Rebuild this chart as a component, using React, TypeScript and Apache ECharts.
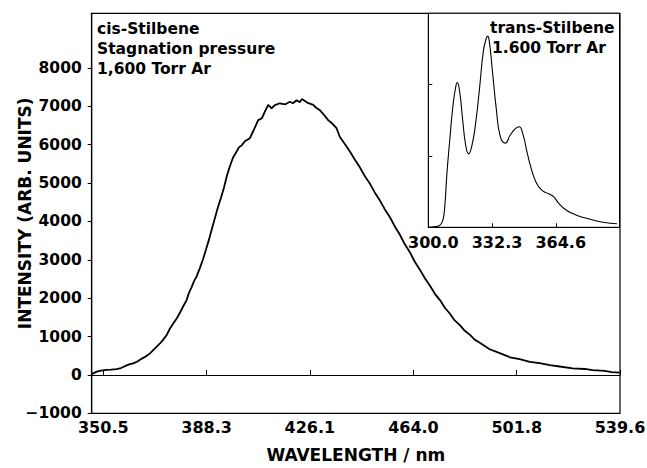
import React, { useEffect, useRef } from "react";
import * as echarts from "echarts";

// Main spectrum (cis-Stilbene): wavelength (nm) and intensity (arb. units)
const mainWavelength = [
  346.26, 348.1, 349.66, 351.74, 353.32, 355.4, 356.97, 359.06, 360.26, 361.47,
  362.83, 363.92, 365.75, 367.58, 369.41, 371.24, 372.45, 373.69, 374.9, 376.1,
  377.35, 378.55, 379.76, 381.0, 381.85, 382.83, 383.67, 384.66, 385.87, 386.97,
  388.06, 389.16, 390.26, 391.36, 392.45, 393.55, 394.65, 395.74, 396.84, 397.94,
  399.04, 400.13, 401.23, 402.33, 404.16, 405.62, 407.19, 408.55, 409.64, 410.85,
  412.09, 413.3, 415.13, 416.96, 418.79, 419.89, 421.24, 422.45, 423.18, 424.28,
  425.38, 427.31, 428.3, 429.76, 431.23, 432.8, 434.15, 435.87, 437.08, 438.9,
  440.7, 442.6, 444.4, 446.3, 448.1, 449.9, 451.7, 453.5, 455.4, 457.2,
  459.0, 460.8, 462.7, 464.5, 466.3, 468.2, 470.0, 471.8, 473.7, 475.5,
  477.3, 479.1, 481.0, 482.8, 484.6, 486.4, 488.3, 491.9, 495.6, 499.3,
  502.9, 506.6, 510.2, 513.9, 517.5, 522.3, 526.7, 529.6, 534.0, 536.6, 539.5,
];
const mainIntensity = [
  20, 86, 110, 130, 138, 150, 180, 250, 280, 300,
  345, 395, 470, 560, 690, 820, 920, 1040, 1210, 1340,
  1470, 1620, 1790, 1950, 2140, 2290, 2440, 2570, 2790, 3010,
  3260, 3520, 3810, 4090, 4370, 4610, 4880, 5190, 5440, 5660,
  5790, 5930, 5990, 6090, 6170, 6390, 6640, 6690, 6860, 7040,
  6950, 7030, 7080, 7050, 7120, 7080, 7160, 7110, 7190, 7140,
  7090, 7040, 6970, 6900, 6780, 6640, 6560, 6430, 6200, 6020,
  5830, 5610, 5410, 5170, 4980, 4750, 4550, 4320, 4110, 3870,
  3660, 3410, 3200, 2950, 2750, 2520, 2330, 2120, 1950, 1750,
  1600, 1420, 1300, 1150, 1050, 920, 840, 670, 570, 460,
  410, 340, 305, 255, 220, 170, 155, 125, 105, 75, 60,
];

// Inset spectrum (trans-Stilbene)
const insetWavelength = [
  300.35, 303.9, 305.9, 307.4, 308.4, 309.4, 310.9, 312.4, 313.9, 314.7,
  315.9, 317.4, 318.9, 320.4, 321.9, 323.9, 325.9, 327.9, 329.4, 330.1,
  330.9, 332.4, 334.5, 336.5, 339.0, 341.5, 344.0, 346.0, 348.0, 350.0,
  352.0, 354.5, 357.5, 361.0, 363.5, 366.0, 370.0, 375.1, 381.1, 388.6, 395.6,
];
const insetIntensity = [
  0.0, 0.01, 0.03, 0.1, 0.31, 0.74, 1.23, 1.68, 1.97, 2.03,
  1.9, 1.51, 1.16, 1.03, 1.12, 1.44, 1.93, 2.47, 2.65, 2.68,
  2.61, 2.22, 1.65, 1.27, 1.18, 1.29, 1.38, 1.41, 1.3, 1.06,
  0.84, 0.64, 0.52, 0.47, 0.43, 0.34, 0.24, 0.17, 0.12, 0.07, 0.05,
];

const mainXTicks = [350.5, 388.3, 426.1, 464.0, 501.8, 539.6];
const mainYTicks = [-1000, 0, 1000, 2000, 3000, 4000, 5000, 6000, 7000, 8000];
const insetXTicks = [300.0, 332.3, 364.6];
const insetYTicks = [1, 2];

const FONT = "DejaVu Sans";

export default function App() {
  const ref = useRef<HTMLDivElement>(null);
  useEffect(() => {
    if (!ref.current) return;
    const chart = echarts.init(ref.current, undefined, { renderer: "svg" });
    const mainData = mainWavelength.map((x, i) => [x, mainIntensity[i]]);
    const insetData = insetWavelength.map((x, i) => [x, insetIntensity[i]]);
    const textStyle = { fontFamily: FONT, fontWeight: "bold", fontSize: 15.5, fill: "#000" };
    chart.setOption({
      animation: false,
      backgroundColor: "#fff",
      grid: [
        {
          left: 91.7, top: 13.3, right: 27, bottom: 54.7, show: true, borderColor: "#000", borderWidth: 1.2,
          containLabel: false, outerBoundsMode: "none",
        },
        {
          left: 428.3, top: 13.3, right: 27.5, bottom: 240.7, show: true, borderColor: "#000", borderWidth: 1,
          backgroundColor: "#fff", containLabel: false, outerBoundsMode: "none",
        },
      ],
      xAxis: [
        {
          type: "value", gridIndex: 0, min: 346.26, max: 539.6,
          name: "WAVELENGTH / nm", nameLocation: "middle", nameGap: 33, nameMoveOverlap: false,
          nameTextStyle: { fontFamily: FONT, fontWeight: "bold", fontSize: 17, color: "#000" },
          axisLine: { show: true, lineStyle: { color: "#000", width: 1.2 } },
          axisTick: { show: true, inside: true, length: 5, customValues: mainXTicks, lineStyle: { color: "#000" } },
          axisLabel: {
            customValues: mainXTicks, margin: 6, color: "#000", fontFamily: FONT, fontWeight: "bold", fontSize: 16,
            formatter: (v: number) => v.toFixed(1),
          },
          splitLine: { show: false },
        },
        {
          type: "value", gridIndex: 1, min: 300, max: 396.9,
          axisLine: { show: true, lineStyle: { color: "#000", width: 1.2 } },
          axisTick: { show: true, inside: true, length: 4, customValues: insetXTicks, lineStyle: { color: "#000" } },
          axisLabel: {
            customValues: insetXTicks, margin: 7, color: "#000", fontFamily: FONT, fontWeight: "bold", fontSize: 16,
            formatter: (v: number) => v.toFixed(1), padding: [0, 0, 0, 10],
          },
          splitLine: { show: false },
        },
      ],
      yAxis: [
        {
          type: "value", gridIndex: 0, min: -1000, max: 9425,
          name: "INTENSITY (ARB. UNITS)", nameLocation: "middle", nameGap: 58, nameMoveOverlap: false,
          nameTextStyle: { fontFamily: FONT, fontWeight: "bold", fontSize: 17, color: "#000" },
          axisLine: { show: true, lineStyle: { color: "#000", width: 1.2 } },
          axisTick: { show: true, inside: false, length: 4, customValues: mainYTicks, lineStyle: { color: "#000" } },
          axisLabel: {
            customValues: mainYTicks, margin: 10, color: "#000", fontFamily: FONT, fontWeight: "bold", fontSize: 15.5,
            formatter: (v: number) => (v < 0 ? "\u2212" + Math.abs(v) : String(v)),
          },
          splitLine: { show: false },
        },
        {
          type: "value", gridIndex: 1, min: 0, max: 3,
          axisLine: { show: true, lineStyle: { color: "#000", width: 1 } },
          axisTick: { show: true, inside: true, length: 4, customValues: insetYTicks, lineStyle: { color: "#000" } },
          axisLabel: { show: false },
          splitLine: { show: false },
        },
      ],
      series: [
        {
          type: "line", xAxisIndex: 0, yAxisIndex: 0, data: mainData, showSymbol: false,
          lineStyle: { color: "#000", width: 1.8 }, z: 2,
        },
        {
          type: "line", xAxisIndex: 1, yAxisIndex: 1, data: insetData, showSymbol: false,
          smooth: 0.5,
          lineStyle: { color: "#000", width: 1.1 }, z: 3,
        },
      ],
      graphic: [
        { type: "text", left: 97, top: 21, style: { ...textStyle, text: "cis-Stilbene" } },
        { type: "text", left: 97, top: 41, style: { ...textStyle, text: "Stagnation pressure" } },
        { type: "text", left: 97, top: 61, style: { ...textStyle, text: "1,600 Torr Ar" } },
        { type: "text", left: 490, top: 20, z: 10, style: { ...textStyle, text: "trans-Stilbene" } },
        { type: "text", left: 492, top: 40, z: 10, style: { ...textStyle, text: "1.600 Torr Ar" } },
      ],
    });
    return () => chart.dispose();
  }, []);
  return (
    <div
      ref={ref}
      style={{ position: "fixed", left: 0, top: 0, width: 647, height: 468, background: "#fff" }}
    />
  );
}
